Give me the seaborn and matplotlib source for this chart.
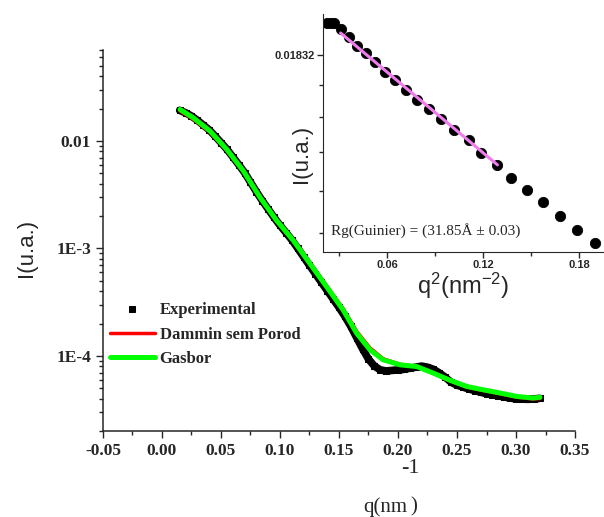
import numpy as np
import pandas as pd
import seaborn as sns
import matplotlib
matplotlib.use("Agg")
import matplotlib.pyplot as plt
from matplotlib.ticker import FixedLocator, NullFormatter

# scattering curve, q in nm^-1, intensity stored as log10(I)
exp_q = [0.015, 0.020, 0.025, 0.030, 0.035, 0.040, 0.045, 0.050, 0.055, 0.060,
         0.065, 0.070, 0.075, 0.080, 0.085, 0.090, 0.095, 0.100, 0.105, 0.110,
         0.115, 0.120, 0.125, 0.130, 0.135, 0.140, 0.145, 0.150, 0.155, 0.160,
         0.165, 0.170, 0.175, 0.180, 0.185, 0.190, 0.195, 0.200, 0.205, 0.210,
         0.215, 0.220, 0.225, 0.230, 0.235, 0.240, 0.245, 0.250, 0.255, 0.260,
         0.265, 0.270, 0.275, 0.280, 0.285, 0.290, 0.295, 0.300, 0.305, 0.310,
         0.315, 0.320]
exp_logI = [-1.715, -1.738, -1.768, -1.808, -1.852, -1.897, -1.955, -2.015, -2.077, -2.148,
            -2.220, -2.295, -2.384, -2.472, -2.556, -2.634, -2.712, -2.785, -2.852, -2.920,
            -2.998, -3.078, -3.158, -3.236, -3.314, -3.392, -3.470, -3.548, -3.632, -3.725,
            -3.830, -3.935, -4.030, -4.095, -4.130, -4.140, -4.135, -4.130, -4.125, -4.115,
            -4.105, -4.095, -4.105, -4.125, -4.158, -4.198, -4.245, -4.272, -4.290, -4.308,
            -4.322, -4.338, -4.352, -4.362, -4.372, -4.382, -4.392, -4.400, -4.402, -4.404,
            -4.400, -4.395]

model_q = [0.0153, 0.0265, 0.0407, 0.0548, 0.0689, 0.0831, 0.0972, 0.1113, 0.1254, 0.1396,
           0.1536, 0.1650, 0.1763, 0.1875, 0.2017, 0.2158, 0.2299, 0.2441, 0.2582, 0.2720,
           0.2864, 0.3006, 0.3144, 0.3203]
gasbor_logI = [-1.707, -1.784, -1.907, -2.077, -2.278, -2.525, -2.741, -2.926, -3.142, -3.358,
               -3.574, -3.790, -3.944, -4.037, -4.083, -4.099, -4.160, -4.227, -4.284, -4.315,
               -4.345, -4.377, -4.392, -4.385]
dammin_logI = [-1.720, -1.797, -1.918, -2.085, -2.282, -2.526, -2.738, -2.920, -3.135, -3.350,
               -3.562, -3.772, -3.926, -4.027, -4.078, -4.098, -4.163, -4.232, -4.290, -4.322,
               -4.352, -4.384, -4.400, -4.397]

# Guinier inset, q^2 in nm^-2
guinier_q2 = [0.0225, 0.0250, 0.0269, 0.0313, 0.0360, 0.0410, 0.0470, 0.0525, 0.0590, 0.0650,
              0.0720, 0.0790, 0.0860, 0.0940, 0.1020, 0.1110, 0.1190, 0.1290, 0.1375, 0.1475,
              0.1575, 0.1680, 0.1790, 0.1900]
guinier_I = [0.01975, 0.01975, 0.01975, 0.01947, 0.01910, 0.01871, 0.01840, 0.01802, 0.01760, 0.01727,
             0.01687, 0.01648, 0.01614, 0.01576, 0.01536, 0.01500, 0.01455, 0.01415, 0.01372, 0.01334,
             0.01297, 0.01255, 0.01215, 0.01178]
fit_q2 = [0.031, 0.129]
fit_I = [0.01929, 0.01415]

sns.set_style("ticks")
plt.rcParams['axes.unicode_minus'] = False
plt.rcParams['mathtext.default'] = 'regular'
serif = 'Liberation Serif'
sans = 'Liberation Sans'

exp_df = pd.DataFrame({'q': exp_q, 'I': 10 ** np.array(exp_logI)})
mod_df = pd.DataFrame({'q': model_q,
                       'Dammin': 10 ** np.array(dammin_logI),
                       'Gasbor': 10 ** np.array(gasbor_logI)})

fig = plt.figure(figsize=(6.04, 5.17), dpi=100)
ax = fig.add_axes([0.1705, 0.1663, 0.7815, 0.7367])

# experimental points are so dense they form a continuous black band
sns.lineplot(data=exp_df, x='q', y='I', color='black', lw=5.5, marker='s', markersize=4.5,
             markeredgecolor='black', label='Experimental', ax=ax, zorder=2)
sns.lineplot(data=mod_df, x='q', y='Dammin', color='#ff0000', lw=2.5,
             label='Dammin sem Porod', ax=ax, zorder=3)
sns.lineplot(data=mod_df, x='q', y='Gasbor', color='#00ff00', lw=3.6,
             label='Gasbor', ax=ax, zorder=4, solid_capstyle='round')

ax.set_yscale('log')
ax.set_xlim(-0.05, 0.35)
ax.set_ylim(2e-5, 0.07)
ax.set_xticks(np.arange(-0.05, 0.351, 0.05))
ax.set_xticklabels(['%.2f' % v for v in np.arange(-0.05, 0.351, 0.05)])
ax.xaxis.set_minor_locator(FixedLocator(np.arange(-0.025, 0.35, 0.05)))
ax.set_yticks([1e-4, 1e-3, 1e-2])
ax.set_yticklabels(['1E-4', '1E-3', '0.01'])
ax.yaxis.set_minor_formatter(NullFormatter())
ax.tick_params(which='major', length=5, width=1, direction='out')
ax.tick_params(which='minor', length=3, width=1, direction='out')
for lab in ax.get_xticklabels() + ax.get_yticklabels():
    lab.set_fontfamily(serif)
    lab.set_fontweight('bold')
    lab.set_fontsize(12.5)
sns.despine(ax=ax)
for sp in ['left', 'bottom']:
    ax.spines[sp].set_linewidth(1.1)
ax.set_xlabel('')
ax.set_ylabel('I(u.a.)', fontfamily=sans, fontsize=16)
ax.yaxis.set_label_coords(-0.14, 0.48)

leg = ax.legend(loc='upper left', bbox_to_anchor=(0.0, 0.355), frameon=False,
                prop={'family': serif, 'weight': 'bold', 'size': 12},
                handlelength=2.7, handletextpad=0.3, labelspacing=0.5, borderaxespad=0)
leg.legend_handles[0].set_linestyle('None')
leg.legend_handles[0].set_markersize(5)

# x label drawn in pieces like the original
fig.text(363 / 604, 1 - 497 / 517, 'q(nm', fontfamily=serif, fontsize=15, ha='left', va='top')
fig.text(410 / 604, 1 - 497 / 517, ')', fontfamily=serif, fontsize=15, ha='left', va='top')
fig.text(401 / 604, 1 - 459 / 517, '-1', fontfamily=serif, fontsize=16, ha='left', va='top')

# inset
axin = fig.add_axes([323 / 604, 1 - 252 / 517, 280 / 604, 238 / 517])
guin_df = pd.DataFrame({'q2': guinier_q2, 'I': guinier_I})
fit_df = pd.DataFrame({'q2': fit_q2, 'I': fit_I})
sns.scatterplot(data=guin_df, x='q2', y='I', color='black', s=55, edgecolor='black',
                ax=axin, zorder=2)
sns.lineplot(data=fit_df, x='q2', y='I', color='#f07cf0', lw=2.2, ax=axin, zorder=3)
axin.set_yscale('log')
axin.set_xlim(0.02, 0.195)
axin.set_ylim(0.01153, 0.02017)
axin.set_xticks([0.06, 0.12, 0.18])
axin.set_xticklabels(['0.06', '0.12', '0.18'])
axin.xaxis.set_minor_locator(FixedLocator([0.03, 0.09, 0.15]))
axin.set_yticks([0.01832])
axin.set_yticklabels(['0.01832'])
axin.yaxis.set_minor_locator(FixedLocator([0.01707, 0.01582, 0.01457, 0.01332, 0.01207]))
axin.yaxis.set_minor_formatter(NullFormatter())
axin.tick_params(which='major', length=4, width=1, direction='out', pad=2)
axin.tick_params(which='minor', length=3, width=1, direction='out')
for lab in axin.get_xticklabels() + axin.get_yticklabels():
    lab.set_fontfamily(sans)
    lab.set_fontweight('bold')
    lab.set_fontsize(8)
sns.despine(ax=axin)
axin.set_xlabel('q$^2$(nm$^{-2}$)', fontfamily=sans, fontsize=17, labelpad=0)
axin.set_ylabel('I(u.a.)', fontfamily=sans, fontsize=16)
axin.yaxis.set_label_coords(-0.04, 0.41)
axin.text(0.03, 0.09, 'Rg(Guinier) = (31.85\u00c5 \u00b1 0.03)', transform=axin.transAxes,
          fontfamily=serif, fontsize=11, ha='left', va='center')

fig.savefig('out.png', dpi=100)
